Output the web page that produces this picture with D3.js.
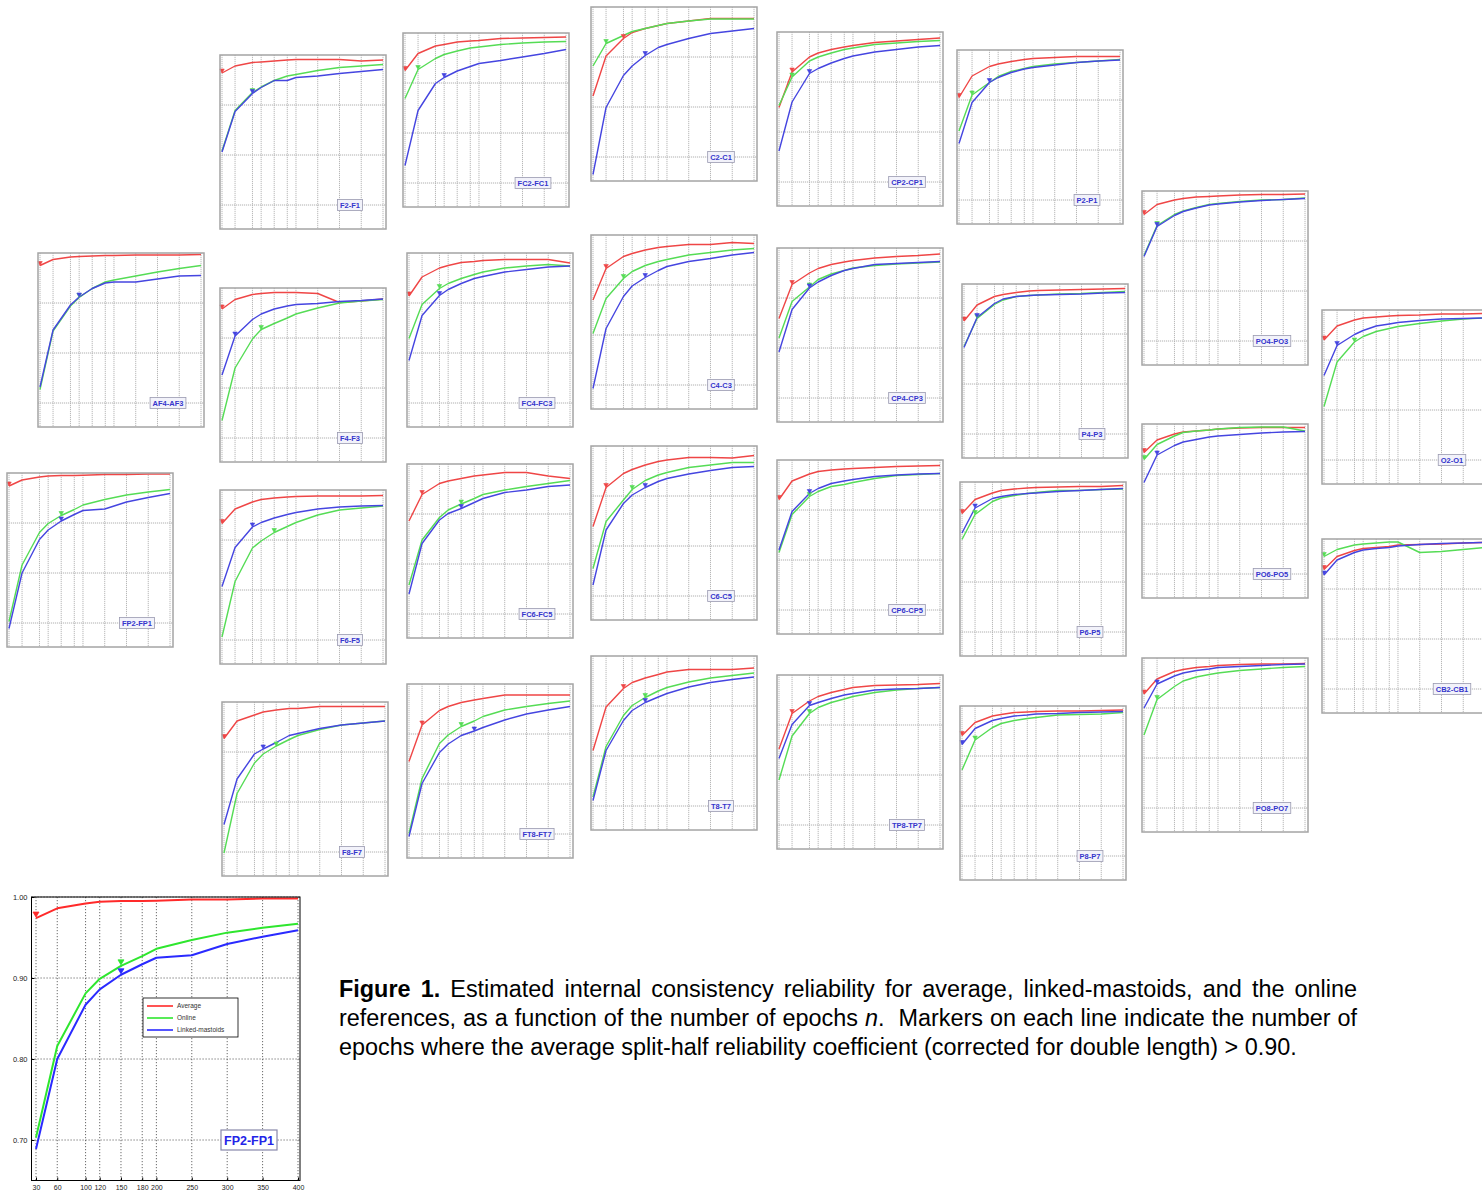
<!DOCTYPE html>
<html><head><meta charset="utf-8">
<script src="https://cdn.jsdelivr.net/npm/d3@7"></script>
<style>body{margin:0;background:#fff;} svg{display:block;}</style>
</head><body>
<svg id="chart" width="1482" height="1194"></svg>
<script>
// ---------------- DATA ----------------
const epochs = [30, 60, 100, 120, 150, 180, 200, 250, 300, 350, 400];
const xTickLabels = [30, 60, 100, 120, 150, 180, 200, 250, 300, 350, 400];
const yTickValues = [0.70, 0.80, 0.90, 1.00];
const seriesNames = ["Average", "Online", "Linked-mastoids"];

const panelNames = ["F2-F1","FC2-FC1","C2-C1","CP2-CP1","P2-P1",
  "AF4-AF3","F4-F3","FC4-FC3","C4-C3","CP4-CP3","P4-P3","PO4-PO3","O2-O1",
  "FP2-FP1","F6-F5","FC6-FC5","C6-C5","CP6-CP5","P6-P5","PO6-PO5","CB2-CB1",
  "F8-F7","FT8-FT7","T8-T7","TP8-TP7","P8-P7","PO8-PO7"];

const averageValues = [
  [0.964,0.978,0.985,0.986,0.988,0.990,0.991,0.991,0.991,0.988,0.990],
  [0.925,0.959,0.974,0.977,0.982,0.984,0.985,0.989,0.990,0.991,0.992],
  [0.822,0.902,0.937,0.949,0.957,0.963,0.967,0.972,0.977,0.977,0.977],
  [0.849,0.920,0.950,0.958,0.965,0.970,0.973,0.979,0.982,0.985,0.988],
  [0.905,0.948,0.967,0.972,0.977,0.981,0.983,0.985,0.987,0.987,0.987],
  [0.975,0.987,0.992,0.993,0.994,0.995,0.995,0.996,0.996,0.996,0.997],
  [0.958,0.977,0.987,0.989,0.991,0.991,0.991,0.989,0.971,0.974,0.978],
  [0.914,0.952,0.970,0.975,0.981,0.983,0.985,0.987,0.987,0.987,0.980],
  [0.870,0.933,0.957,0.963,0.970,0.975,0.977,0.981,0.981,0.985,0.983],
  [0.859,0.927,0.950,0.959,0.967,0.972,0.975,0.980,0.983,0.985,0.988],
  [0.926,0.958,0.975,0.979,0.983,0.986,0.987,0.988,0.989,0.990,0.991],
  [0.953,0.973,0.982,0.985,0.988,0.989,0.990,0.992,0.993,0.993,0.994],
  [0.940,0.968,0.980,0.984,0.986,0.988,0.989,0.990,0.992,0.992,0.993],
  [0.974,0.986,0.992,0.994,0.995,0.995,0.9955,0.997,0.997,0.998,0.998],
  [0.933,0.962,0.976,0.981,0.984,0.986,0.987,0.988,0.988,0.988,0.989],
  [0.886,0.939,0.961,0.966,0.971,0.976,0.978,0.983,0.983,0.976,0.971],
  [0.839,0.917,0.945,0.953,0.962,0.969,0.972,0.977,0.977,0.976,0.981],
  [0.921,0.958,0.972,0.977,0.980,0.982,0.983,0.985,0.987,0.988,0.989],
  [0.937,0.965,0.978,0.983,0.986,0.988,0.989,0.990,0.991,0.991,0.993],
  [0.943,0.968,0.980,0.984,0.986,0.988,0.990,0.992,0.993,0.993,0.993],
  [0.939,0.965,0.977,0.981,0.983,0.985,0.988,0.989,0.990,0.992,0.993],
  [0.927,0.962,0.974,0.980,0.984,0.987,0.987,0.991,0.991,0.991,0.991],
  [0.845,0.918,0.947,0.955,0.963,0.968,0.971,0.978,0.978,0.978,0.978],
  [0.811,0.898,0.935,0.947,0.956,0.963,0.968,0.973,0.973,0.973,0.976],
  [0.852,0.923,0.948,0.957,0.965,0.971,0.975,0.979,0.980,0.981,0.983],
  [0.941,0.967,0.980,0.983,0.987,0.988,0.989,0.990,0.990,0.991,0.992],
  [0.928,0.958,0.973,0.977,0.981,0.983,0.985,0.987,0.988,0.988,0.989]
];
const onlineValues = [
  [0.808,0.889,0.925,0.936,0.949,0.958,0.961,0.969,0.975,0.978,0.981],
  [0.869,0.927,0.949,0.957,0.964,0.970,0.972,0.977,0.980,0.982,0.983],
  [0.882,0.927,0.943,0.951,0.957,0.963,0.967,0.972,0.976,0.976,0.976],
  [0.853,0.910,0.942,0.950,0.958,0.965,0.968,0.975,0.978,0.981,0.983],
  [0.838,0.910,0.935,0.947,0.957,0.963,0.967,0.972,0.975,0.978,0.981],
  [0.727,0.844,0.894,0.911,0.929,0.942,0.946,0.954,0.962,0.969,0.975],
  [0.735,0.840,0.898,0.917,0.929,0.940,0.948,0.960,0.970,0.974,0.977],
  [0.829,0.897,0.929,0.939,0.949,0.957,0.962,0.970,0.974,0.977,0.974],
  [0.803,0.873,0.913,0.927,0.939,0.947,0.951,0.960,0.965,0.970,0.973],
  [0.820,0.893,0.922,0.937,0.948,0.955,0.960,0.965,0.968,0.970,0.972],
  [0.875,0.931,0.959,0.968,0.975,0.977,0.978,0.980,0.981,0.983,0.985],
  [0.871,0.931,0.953,0.960,0.967,0.973,0.975,0.979,0.982,0.983,0.986],
  [0.807,0.896,0.936,0.947,0.957,0.963,0.967,0.973,0.978,0.982,0.984],
  [0.703,0.816,0.881,0.899,0.915,0.927,0.936,0.947,0.956,0.962,0.967],
  [0.706,0.817,0.884,0.898,0.915,0.927,0.935,0.950,0.960,0.964,0.968],
  [0.758,0.848,0.893,0.908,0.920,0.931,0.939,0.948,0.955,0.961,0.967],
  [0.755,0.849,0.892,0.913,0.931,0.942,0.947,0.957,0.962,0.967,0.967],
  [0.815,0.891,0.927,0.937,0.947,0.951,0.955,0.963,0.969,0.971,0.973],
  [0.885,0.935,0.961,0.968,0.973,0.977,0.979,0.983,0.983,0.985,0.986],
  [0.929,0.959,0.976,0.983,0.986,0.988,0.990,0.993,0.994,0.994,0.986],
  [0.965,0.979,0.988,0.990,0.992,0.994,0.994,0.973,0.975,0.979,0.983],
  [0.698,0.817,0.878,0.896,0.912,0.925,0.933,0.945,0.954,0.958,0.962],
  [0.701,0.811,0.881,0.898,0.915,0.926,0.935,0.948,0.955,0.961,0.966],
  [0.718,0.819,0.881,0.901,0.917,0.930,0.937,0.948,0.956,0.961,0.966],
  [0.790,0.878,0.923,0.935,0.945,0.952,0.957,0.965,0.970,0.973,0.975],
  [0.872,0.932,0.957,0.965,0.971,0.975,0.977,0.982,0.983,0.984,0.987],
  [0.846,0.917,0.943,0.954,0.962,0.967,0.970,0.975,0.978,0.981,0.983]
];
const linkedValues = [
  [0.806,0.887,0.923,0.935,0.949,0.949,0.955,0.958,0.963,0.967,0.971],
  [0.735,0.845,0.899,0.911,0.924,0.933,0.939,0.945,0.952,0.959,0.967],
  [0.665,0.799,0.863,0.882,0.903,0.919,0.925,0.937,0.947,0.952,0.957],
  [0.762,0.860,0.917,0.927,0.938,0.947,0.952,0.960,0.965,0.970,0.973],
  [0.813,0.895,0.935,0.945,0.955,0.962,0.965,0.970,0.975,0.978,0.980],
  [0.732,0.846,0.896,0.912,0.929,0.940,0.942,0.942,0.948,0.954,0.955],
  [0.826,0.904,0.937,0.948,0.958,0.964,0.967,0.969,0.973,0.975,0.978],
  [0.785,0.875,0.915,0.927,0.939,0.949,0.953,0.962,0.967,0.972,0.974],
  [0.693,0.813,0.877,0.898,0.915,0.929,0.937,0.947,0.953,0.960,0.965],
  [0.792,0.877,0.920,0.932,0.945,0.955,0.959,0.967,0.969,0.971,0.973],
  [0.873,0.933,0.961,0.970,0.975,0.977,0.978,0.979,0.980,0.982,0.983],
  [0.869,0.929,0.951,0.959,0.966,0.972,0.974,0.978,0.981,0.983,0.985],
  [0.869,0.929,0.951,0.959,0.968,0.972,0.975,0.979,0.982,0.983,0.984],
  [0.689,0.800,0.867,0.886,0.904,0.917,0.925,0.928,0.942,0.951,0.959],
  [0.807,0.885,0.926,0.935,0.944,0.951,0.955,0.962,0.966,0.968,0.969],
  [0.740,0.841,0.888,0.901,0.911,0.923,0.931,0.943,0.948,0.955,0.958],
  [0.722,0.832,0.885,0.902,0.917,0.929,0.935,0.944,0.951,0.957,0.959],
  [0.820,0.897,0.933,0.943,0.953,0.958,0.961,0.967,0.970,0.972,0.973],
  [0.898,0.948,0.967,0.971,0.975,0.977,0.978,0.981,0.983,0.985,0.987],
  [0.883,0.938,0.957,0.964,0.969,0.974,0.976,0.979,0.982,0.984,0.985],
  [0.928,0.958,0.973,0.978,0.981,0.983,0.986,0.989,0.991,0.992,0.993],
  [0.755,0.846,0.896,0.906,0.919,0.933,0.937,0.947,0.954,0.958,0.962],
  [0.695,0.801,0.863,0.880,0.897,0.906,0.913,0.928,0.940,0.948,0.955],
  [0.711,0.811,0.871,0.891,0.907,0.918,0.925,0.938,0.947,0.953,0.958],
  [0.833,0.901,0.939,0.945,0.953,0.960,0.963,0.970,0.972,0.973,0.975],
  [0.923,0.955,0.971,0.975,0.980,0.982,0.984,0.985,0.987,0.988,0.989],
  [0.900,0.948,0.964,0.970,0.975,0.978,0.981,0.983,0.985,0.987,0.988]
];
// number of epochs where reliability first exceeds 0.90 (marker position)
const averageMarkers = [30,30,100,60,30, 30,30,30,60,60,30,30,30, 30,30,60,60,30,30,30,30, 30,60,100,60,30,30];
const onlineMarkers  = [100,60,60,60,60, 120,120,100,100,100,60,60,100, 150,150,150,120,100,60,30,30, 150,150,150,100,60,60];
const linkedMarkers  = [100,120,150,100,100, 120,60,100,150,100,60,60,60, 150,100,150,150,100,60,60,30, 120,180,150,100,30,60];

const enlargedPanel = "FP2-FP1";

const captionLines = [
  [{t:"Figure 1.", bold:true}, {t:" Estimated internal consistency reliability for average, linked-mastoids, and the online"}],
  [{t:"references, as a function of the number of epochs "}, {t:"n", italic:true}, {t:".  Markers on each line indicate the number of"}],
  [{t:"epochs where the average split-half reliability coefficient (corrected for double length) > 0.90."}]
];

// ---------------- LAYOUT ----------------
const panelLayout = [[220,55],[403,33],[591,7],[777,32],[957,50],
  [38,253],[220,288],[407,253],[591,235],[777,248],[962,284],[1142,191],[1322,310],
  [7,473],[220,490],[407,464],[591,446],[777,460],[960,482],[1142,424],[1322,539],
  [222,702],[407,684],[591,656],[777,675],[960,706],[1142,658]];

const svg = d3.select("#chart");
const FONT = "'Liberation Sans', Arial, Helvetica, sans-serif";
const smallColors = ["#ef4646", "#55dc55", "#4545e0"];
const bigColors = ["#ff2a2a", "#2ee62e", "#2a2aff"];

function triPath(x, y, w, h) {
  return `M${x - w/2},${y - h}L${x + w/2},${y - h}L${x},${y}Z`;
}

function drawSmall(i) {
  const [px, py] = panelLayout[i];
  const W = 166, H = 174;
  const g = svg.append("g").attr("transform", `translate(${px},${py})`);
  const x = d3.scaleLinear().domain([30, 400]).range([2, W - 3]);
  const y = d3.scaleLinear().domain([0.652, 1.0]).range([H, 0]);
  g.append("rect").attr("width", W).attr("height", H).attr("fill", "#fff");
  g.selectAll("line.vg").data(xTickLabels).enter().append("line")
    .attr("x1", d => x(d)).attr("x2", d => x(d)).attr("y1", 0).attr("y2", H)
    .attr("stroke", "#b8b8b8").attr("stroke-width", 1).attr("stroke-dasharray", "1.2,0.8");
  g.selectAll("line.hg").data([0.7, 0.8, 0.9]).enter().append("line")
    .attr("x1", 0).attr("x2", W).attr("y1", d => y(d)).attr("y2", d => y(d))
    .attr("stroke", "#b0b0b0").attr("stroke-width", 1).attr("stroke-dasharray", "1.2,0.8");

  const series = [averageValues[i], onlineValues[i], linkedValues[i]];
  const markers = [averageMarkers[i], onlineMarkers[i], linkedMarkers[i]];
  const line = d3.line().x((d, k) => x(epochs[k])).y(d => y(d));
  series.forEach((vals, s) => {
    g.append("path").attr("d", line(vals)).attr("fill", "none")
      .attr("stroke", smallColors[s]).attr("stroke-width", 1.4).attr("stroke-linejoin", "round");
  });
  series.forEach((vals, s) => {
    const k = epochs.indexOf(markers[s]);
    g.append("path").attr("d", triPath(x(markers[s]), y(vals[k]), 4.5, 4))
      .attr("fill", smallColors[s]).attr("stroke", smallColors[s]).attr("stroke-width", 0.6);
  });

  // label
  const lg = g.append("g").attr("transform", `translate(130,${y(0.70)})`);
  const t = lg.append("text").text(panelNames[i]).attr("text-anchor", "middle")
    .attr("dy", "0.35em").attr("font-family", FONT).attr("font-size", 7.5)
    .attr("font-weight", "bold").attr("fill", "#3535cc");
  const tw = t.node().getComputedTextLength();
  lg.insert("rect", "text").attr("x", -tw/2 - 2.5).attr("y", -5.5).attr("width", tw + 5).attr("height", 11)
    .attr("fill", "#f2f2fa").attr("stroke", "#9a9ab0").attr("stroke-width", 0.8);

  g.append("rect").attr("width", W).attr("height", H).attr("fill", "none")
    .attr("stroke", "#a4a4a4").attr("stroke-width", 1.5);
}

panelNames.forEach((n, i) => drawSmall(i));

// ---------------- ENLARGED PANEL ----------------
(function drawBig() {
  const i = panelNames.indexOf(enlargedPanel);
  const L = 31.5, T = 897, W = 268.5, H = 283.5;
  const g = svg.append("g").attr("transform", `translate(${L},${T})`);
  const x = d3.scaleLinear().domain([30, 400]).range([4.5, W - 2]);
  const y = d3.scaleLinear().domain([0.65, 1.0]).range([H, 0]);
  g.append("rect").attr("width", W).attr("height", H).attr("fill", "#fff");
  g.selectAll("line.vg").data(xTickLabels).enter().append("line")
    .attr("x1", d => x(d)).attr("x2", d => x(d)).attr("y1", 0).attr("y2", H)
    .attr("stroke", "#444").attr("stroke-width", 0.8).attr("stroke-dasharray", "1.2,1.8");
  g.selectAll("line.hg").data(yTickValues).enter().append("line")
    .attr("x1", 0).attr("x2", W).attr("y1", d => y(d)).attr("y2", d => y(d))
    .attr("stroke", "#444").attr("stroke-width", 0.8).attr("stroke-dasharray", "1.2,1.8");

  const series = [averageValues[i], onlineValues[i], linkedValues[i]];
  const markers = [averageMarkers[i], onlineMarkers[i], linkedMarkers[i]];
  const line = d3.line().x((d, k) => x(epochs[k])).y(d => y(d));
  series.forEach((vals, s) => {
    g.append("path").attr("d", line(vals)).attr("fill", "none")
      .attr("stroke", bigColors[s]).attr("stroke-width", 2).attr("stroke-linejoin", "round");
  });
  series.forEach((vals, s) => {
    const k = epochs.indexOf(markers[s]);
    g.append("path").attr("d", triPath(x(markers[s]), y(vals[k]) - 1, 6, 5))
      .attr("fill", bigColors[s]).attr("stroke", bigColors[s]).attr("stroke-width", 0.8);
  });

  // axes
  const ya = g.append("g").call(d3.axisLeft(y).tickValues(yTickValues).tickFormat(d3.format(".2f")).tickSize(-3).tickPadding(4));
  ya.select(".domain").remove();
  ya.selectAll("text").attr("font-family", FONT).attr("font-size", 7.5).attr("fill", "#222");
  ya.selectAll("line").attr("stroke", "#000");
  const xa = g.append("g").attr("transform", `translate(0,${H})`)
    .call(d3.axisBottom(x).tickValues(xTickLabels).tickFormat(d3.format("d")).tickSize(-3).tickPadding(5));
  xa.select(".domain").remove();
  xa.selectAll("text").attr("font-family", FONT).attr("font-size", 7).attr("fill", "#222");
  xa.selectAll("line").attr("stroke", "#000");

  // legend
  const lgd = g.append("g").attr("transform", `translate(${143 - L},${998 - T})`);
  lgd.append("rect").attr("width", 95).attr("height", 39).attr("fill", "#fff").attr("stroke", "#000").attr("stroke-width", 0.8);
  seriesNames.forEach((n, s) => {
    const yy = 8 + s * 12;
    lgd.append("line").attr("x1", 4).attr("x2", 30).attr("y1", yy).attr("y2", yy)
      .attr("stroke", bigColors[s]).attr("stroke-width", 1.6);
    lgd.append("text").attr("x", 34).attr("y", yy).attr("dy", "0.35em").text(n)
      .attr("font-family", FONT).attr("font-size", 6.5).attr("fill", "#333");
  });

  // label
  const lb = g.append("g").attr("transform", `translate(${249 - L},${y(0.70)})`);
  const t = lb.append("text").text(panelNames[i]).attr("text-anchor", "middle").attr("dy", "0.36em")
    .attr("font-family", FONT).attr("font-size", 12.5).attr("font-weight", "bold").attr("fill", "#2424e8");
  const tw = t.node().getComputedTextLength();
  lb.insert("rect", "text").attr("x", -tw/2 - 3).attr("y", -10).attr("width", tw + 6).attr("height", 20)
    .attr("fill", "#fff").attr("stroke", "#8888aa").attr("stroke-width", 1.2);

  g.append("rect").attr("width", W).attr("height", H).attr("fill", "none").attr("stroke", "#000").attr("stroke-width", 1);
})();

// ---------------- CAPTION ----------------
(function drawCaption() {
  const X0 = 339, FULL = 1018, baselines = [997, 1026, 1055];
  function build(fs) {
    svg.selectAll("text.cap").remove();
    return captionLines.map((parts, li) => {
      const t = svg.append("text").attr("class", "cap").attr("x", X0).attr("y", baselines[li])
        .attr("font-family", FONT).attr("font-size", fs).attr("fill", "#000")
        .style("white-space", "pre");
      parts.forEach(p => {
        const ts = t.append("tspan").text(p.t);
        if (p.bold) ts.attr("font-weight", "bold");
        if (p.italic) ts.attr("font-style", "italic");
      });
      return t;
    });
  }
  let texts = build(20);
  const w3 = texts[2].node().getComputedTextLength();
  const fs = 20 * 958 / w3;
  texts = build(fs);
  [0, 1].forEach(li => {
    const t = texts[li];
    const w = t.node().getComputedTextLength();
    const str = captionLines[li].map(p => p.t).join("");
    const spaces = (str.match(/ /g) || []).length;
    t.style("word-spacing", ((FULL - w) / spaces) + "px");
  });
})();
</script>
</body></html>
